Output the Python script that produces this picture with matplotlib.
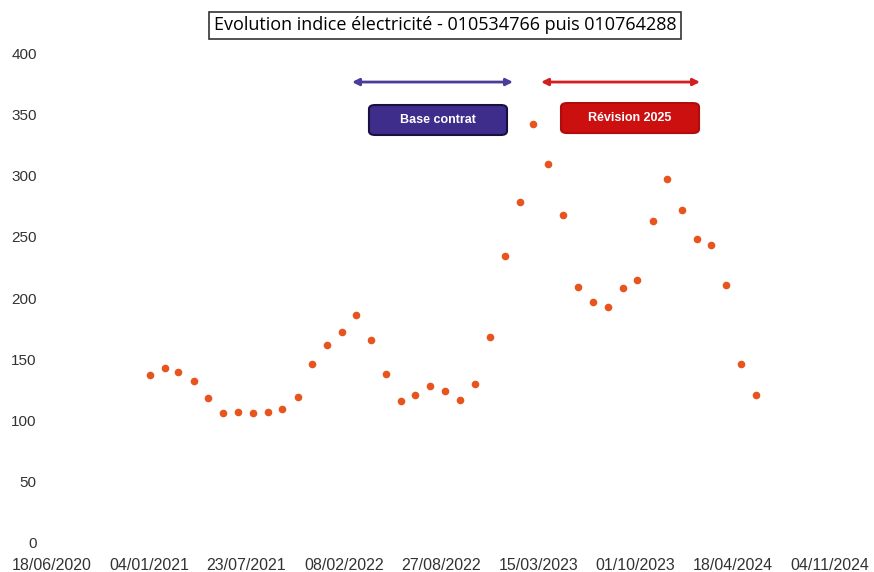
import matplotlib
matplotlib.use("Agg")
import matplotlib.pyplot as plt
import matplotlib.dates as mdates
from matplotlib.patches import FancyBboxPatch
import pandas as pd

# monthly index values, Jan 2021 -> Jun 2024
dates = pd.date_range("2021-01-01", periods=42, freq="MS")
values = [137, 143, 140, 132, 118, 106, 107, 106, 107, 109, 119, 146,
          162, 172, 186, 166, 138, 116, 121, 128, 124, 117, 130, 168,
          234, 278, 342, 309, 268, 209, 197, 193, 208, 215, 263, 297,
          272, 248, 243, 211, 146, 121]

title = "Evolution indice électricité - 010534766 puis 010764288"
x_ticks = pd.date_range("2020-06-18", "2024-11-04", freq="200D")
y_ticks = [0, 50, 100, 150, 200, 250, 300, 350, 400]

plt.rcParams["font.family"] = ["Liberation Sans", "DejaVu Sans"]

fig = plt.figure(figsize=(8.74, 5.72), dpi=100)
ax = fig.add_axes([0.0595, 0.0507, 0.8902, 0.8566])

ax.scatter(dates + pd.Timedelta(days=4), values, s=20, color="#e8541e", zorder=3)

ax.set_xlim(x_ticks[0], x_ticks[-1])
ax.set_ylim(0, 400)
ax.set_xticks(x_ticks)
ax.xaxis.set_major_formatter(mdates.DateFormatter("%d/%m/%Y"))
ax.set_yticks(y_ticks)
ax.tick_params(axis="both", length=0, labelsize=11, colors="#333333")
ax.tick_params(axis="x", pad=11, labelsize=11.5)
ax.tick_params(axis="y", pad=11)
for s in ax.spines.values():
    s.set_visible(False)

# period arrows
ax.annotate("", xy=(0.3856, 0.9408), xytext=(0.5925, 0.9408), xycoords="axes fraction",
            arrowprops=dict(arrowstyle="<|-|>", color="#4a3d99", lw=2,
                            mutation_scale=10, shrinkA=0, shrinkB=0))
ax.annotate("", xy=(0.6285, 0.9408), xytext=(0.8329, 0.9408), xycoords="axes fraction",
            arrowprops=dict(arrowstyle="<|-|>", color="#d21f1f", lw=2,
                            mutation_scale=10, shrinkA=0, shrinkB=0))

# labels in boxes
w, h = 0.1774, 0.0612
for cx, cy, txt, fc, ec in [(0.4961, 0.8633, "Base contrat", "#3f2d8c", "#1a1040"),
                            (0.7429, 0.8673, "Révision 2025", "#cc1010", "#b00c0c")]:
    box = FancyBboxPatch((cx - w / 2, cy - h / 2), w, h, transform=ax.transAxes,
                         boxstyle="round,pad=0,rounding_size=0.008",
                         fc=fc, ec=ec, lw=1.5, zorder=4)
    ax.add_patch(box)
    ax.text(cx, cy, txt, transform=ax.transAxes, ha="center", va="center",
            color="white", fontsize=9, fontweight="bold", zorder=5)

fig.text(0.509, 0.956, title, ha="center", va="center", fontsize=13,
         family=["Open Sans", "DejaVu Sans"],
         bbox=dict(boxstyle="square,pad=0.25", fc="white", ec="#333333", lw=1.2))

fig.savefig("out.png", dpi=100)
